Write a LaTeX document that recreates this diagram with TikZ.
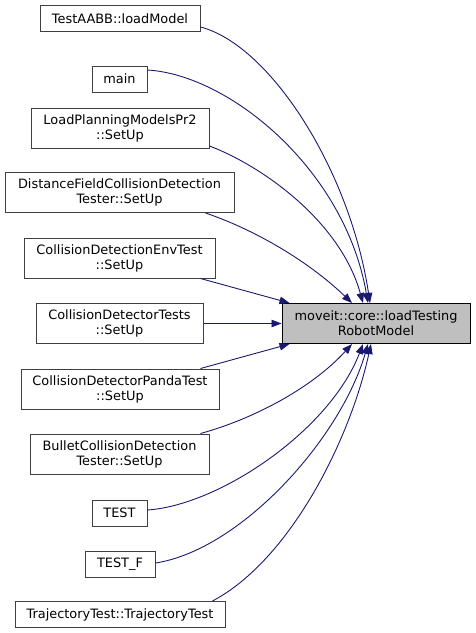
\documentclass[tikz,border=0pt]{standalone}
\usepackage{fontspec}
\setmainfont{DejaVu Sans}
\usetikzlibrary{arrows.meta}
\definecolor{edgeblue}{HTML}{191970}
\definecolor{boxline}{HTML}{404040}
\definecolor{tgtfill}{HTML}{BFBFBF}
\tikzset{
  box/.style={draw=boxline, fill=white, line width=1pt, inner sep=0pt, align=center,
    minimum height=26pt, font=\fontsize{12.9pt}{15pt}\selectfont},
  box2/.style={box, minimum height=40pt},
  tgt/.style={box2, draw=black, fill=tgtfill},
  edge/.style={draw=edgeblue, line width=0.9pt, -{Triangle[length=10pt,width=7.5pt]}}
}
\begin{document}
\begin{tikzpicture}[x=1pt,y=-1pt]
\useasboundingbox (0,0) rectangle (475,633);
\node[box, minimum width=160pt] (a1) at (120,18.5) {TestAABB::loadModel};
\node[box, minimum width=55pt] (a2) at (119.5,79) {main};
\node[box2, minimum width=178pt] (a3) at (120,128) {LoadPlanningModelsPr2\\::SetUp};
\node[box2, minimum width=229pt] (a4) at (119.5,192.5) {DistanceFieldCollisionDetection\\Tester::SetUp};
\node[box2, minimum width=191pt] (a5) at (119.5,258) {CollisionDetectionEnvTest\\::SetUp};
\node[box2, minimum width=167pt] (a6) at (119.5,323.5) {CollisionDetectorTests\\::SetUp};
\node[box2, minimum width=198pt] (a7) at (120,389) {CollisionDetectorPandaTest\\::SetUp};
\node[box2, minimum width=179pt] (a8) at (119.5,454) {BulletCollisionDetection\\Tester::SetUp};
\node[box, minimum width=55pt] (a9) at (119.5,513) {TEST};
\node[box, minimum width=70pt] (a10) at (120,564) {TEST\_F};
\node[box, minimum width=210pt] (a11) at (120,614.5) {TrajectoryTest::TrajectoryTest};
\node[tgt, minimum width=188pt] (t) at (376,323.5) {moveit::core::loadTesting\\RobotModel};

% top group
\draw[edge] ([yshift=-8.5pt]a1.east) .. controls (270,45) and (350,170) .. ([xshift=-6pt]t.north);
\draw[edge] ([yshift=9pt]a2.east) .. controls (230,75) and (345,170) .. ([xshift=-8pt]t.north);
\draw[edge] ([yshift=-18pt]a3.east) .. controls (260,165) and (340,220) .. ([xshift=-13pt]t.north);
\draw[edge] ([xshift=-29pt]a4.south east) .. controls (250,228) and (305,258) .. ([xshift=-24pt]t.north);
% middle
\draw[edge] ([xshift=-15pt]a5.south east) -- ([xshift=8pt]t.north west);
\draw[edge] (a6.east) -- (t.west);
\draw[edge] ([xshift=-19pt]a7.north east) -- ([xshift=8pt]t.south west);
% bottom group
\draw[edge] ([xshift=-9pt]a8.north east) .. controls (250,420) and (310,390) .. ([xshift=-24pt]t.south);
\draw[edge] ([yshift=3pt]a9.east) .. controls (220,505) and (330,430) .. ([xshift=-13pt]t.south);
\draw[edge] ([yshift=1pt]a10.east) .. controls (240,550) and (340,440) .. ([xshift=-8pt]t.south);
\draw[edge] ([xshift=-13pt]a11.north east) .. controls (290,560) and (350,440) .. ([xshift=-5pt]t.south);
\end{tikzpicture}
\end{document}
